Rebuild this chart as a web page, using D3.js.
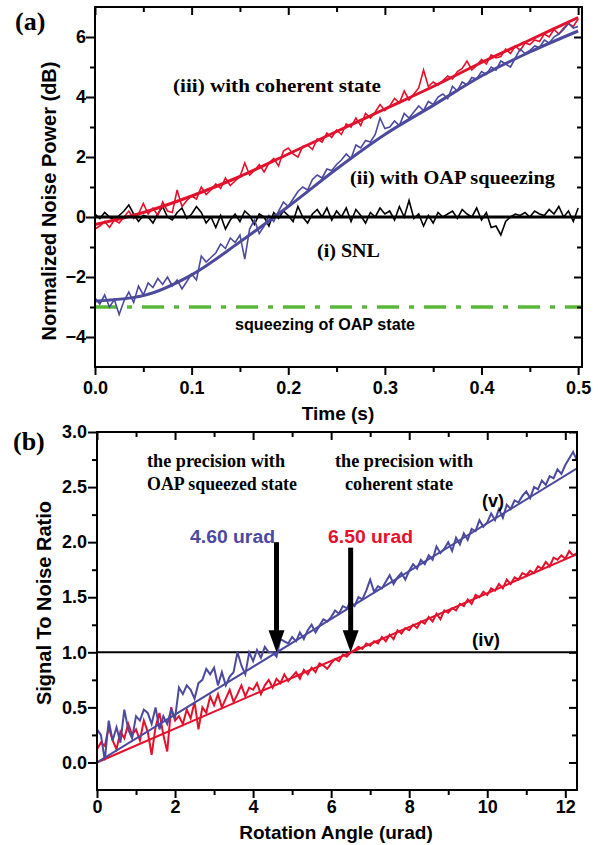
<!DOCTYPE html>
<html>
<head>
<meta charset="utf-8">
<script src="https://cdn.jsdelivr.net/npm/d3@7"></script>
<style>
  body { margin: 0; background: #fff; }
  .tick text { font-family: "Liberation Sans", Arial, sans-serif; font-weight: bold; font-size: 18px; fill: #000; }
  .tick line { stroke: #000; stroke-width: 2; }
</style>
</head>
<body>
<svg id="chart" width="601" height="845"></svg>
<script>
// ---- panel (a): noise power vs time ----
var timeStep = 0.005;
var snlTrace = [
    0.1,-0.05,0.15,0.0,-0.1,0.05,0.2,0.4,0.1,-0.15,
    0.05,0.0,-0.2,0.1,0.35,0.0,-0.1,0.15,0.3,-0.05,
    0.1,0.35,0.15,-0.2,0.0,-0.35,0.05,-0.4,-0.1,0.1,
    -0.15,0.2,0.05,-0.25,0.1,0.0,-0.3,0.15,-0.05,0.2,
    0.05,-0.15,0.35,0.0,-0.2,0.1,0.25,0.0,0.3,-0.1,
    0.2,0.0,0.3,-0.15,0.25,0.05,-0.2,0.15,0.0,0.3,
    0.1,0.2,-0.1,0.35,0.0,0.55,-0.05,0.1,-0.3,0.05,
    -0.2,0.15,0.0,0.1,0.2,-0.05,0.25,0.1,0.0,0.3,
    -0.1,0.15,-0.35,-0.3,-0.6,-0.15,0.0,0.1,0.05,0.15,
    0.0,0.2,0.1,0.05,0.25,0.1,0.35,0.0,0.2,-0.15,
    0.3
];
var coherentTrace = [
    -0.4,-0.3,-0.15,-0.35,-0.1,-0.2,0.0,0.2,-0.05,0.1,
    0.45,0.1,0.3,0.05,0.5,0.2,0.15,0.9,0.35,0.55,
    0.7,0.6,1.0,0.75,0.9,1.1,0.95,1.3,1.05,1.2,
    1.35,1.8,1.4,1.55,1.75,1.5,1.8,1.95,1.7,2.2,
    2.3,2.1,2.0,2.35,2.4,2.25,2.6,2.5,2.8,2.65,
    2.9,2.75,3.1,3.0,3.3,3.05,3.45,3.3,3.5,3.75,
    3.55,3.7,3.95,3.8,4.2,3.9,4.1,4.3,4.9,4.35,
    4.5,4.4,4.55,4.7,4.6,4.85,4.95,5.2,4.9,5.05,
    5.25,5.1,5.4,5.3,5.35,5.6,5.45,5.7,5.55,5.8,
    5.75,5.9,5.85,6.1,6.0,6.25,6.1,6.3,6.45,6.35,
    6.6
];
var oapTrace = [
    -2.7,-2.9,-2.6,-3.0,-2.75,-3.25,-2.8,-2.5,-2.85,-2.3,
    -2.6,-2.2,-2.35,-2.05,-2.25,-2.0,-2.3,-2.1,-2.4,-2.15,
    -1.9,-2.1,-1.3,-1.5,-1.35,-1.2,-0.9,-1.05,-0.7,-0.85,
    -0.6,-1.4,-0.4,-0.1,-0.55,-0.3,0.05,-0.15,0.2,0.5,
    0.35,0.6,0.85,1.0,0.9,1.25,1.4,1.3,1.6,1.55,
    1.75,1.9,2.1,1.95,2.4,2.3,2.55,2.5,2.75,3.3,
    2.95,3.0,3.2,3.05,3.45,3.3,3.5,3.7,3.55,3.85,
    3.75,4.0,4.1,3.95,4.35,4.2,4.5,4.4,4.65,4.6,
    4.85,4.75,5.0,4.9,5.2,5.1,5.0,5.3,5.6,5.45,
    5.55,5.7,5.65,5.9,5.8,6.0,6.1,6.25,6.45,6.3,
    6.35
];
var fitTimes = [0, 0.05, 0.1, 0.15, 0.2, 0.25, 0.3, 0.35, 0.4, 0.45, 0.5];
var coherentFit = [-0.25, 0.15, 0.7, 1.35, 2.1, 2.85, 3.6, 4.35, 5.15, 5.9, 6.65];
var oapFit = [-2.8, -2.62, -1.93, -0.83, 0.35, 1.6, 2.75, 3.72, 4.7, 5.5, 6.2];
var snlLevel = 0;
var oapSqueezeLevel = -3.0;

var timeTicks = [0, 0.1, 0.2, 0.3, 0.4, 0.5];
var timeMinor = [0.05, 0.15, 0.25, 0.35, 0.45];
var powerTicks = [-4, -2, 0, 2, 4, 6];
var powerMinor = [-3, -1, 1, 3, 5];

// ---- panel (b): SNR vs rotation angle ----
var angleStep = 0.1;
var oapSnr = [
    0.30,0.25,0.02,0.38,0.2,0.32,0.18,0.48,0.3,0.22,
    0.42,0.38,0.48,0.45,0.35,0.5,0.3,0.42,0.35,0.48,
    0.4,0.68,0.62,0.7,0.66,0.58,0.72,0.75,0.85,0.8,
    0.86,0.7,0.82,0.7,0.78,0.82,1.0,0.88,0.8,1.0,
    0.92,1.02,0.95,1.05,1.0,1.0,0.96,1.12,1.1,1.08,
    1.14,1.1,1.18,1.12,1.2,1.25,1.18,1.24,1.3,1.28,
    1.32,1.38,1.35,1.42,1.4,1.46,1.42,1.5,1.48,1.56,
    1.66,1.55,1.6,1.58,1.64,1.7,1.62,1.68,1.72,1.66,
    1.74,1.8,1.76,1.84,1.8,1.88,1.84,1.96,1.9,1.94,
    2.0,1.92,2.04,1.98,2.08,2.02,2.12,2.1,2.2,2.14,
    2.18,2.26,2.2,2.3,2.22,2.34,2.3,2.38,2.36,2.42,
    2.46,2.4,2.5,2.48,2.56,2.52,2.6,2.58,2.66,2.62,
    2.7,2.76,2.82,2.74
];
var coherentSnr = [
    0.12,0.18,0.15,0.32,0.2,0.12,0.28,0.22,0.35,0.25,
    0.3,0.2,0.38,0.28,0.07,0.32,0.45,0.25,0.1,0.5,
    0.38,0.42,0.35,0.48,0.4,0.55,0.3,0.5,0.45,0.6,
    0.52,0.62,0.5,0.58,0.66,0.55,0.62,0.7,0.6,0.68,
    0.66,0.72,0.62,0.7,0.75,0.68,0.76,0.72,0.8,0.74,
    0.78,0.82,0.76,0.84,0.8,0.86,0.82,0.9,0.88,0.85,
    0.9,0.94,0.92,0.98,0.96,1.0,1.02,1.05,1.03,1.08,
    1.06,1.1,1.08,1.14,1.1,1.16,1.12,1.2,1.17,1.22,
    1.2,1.25,1.22,1.28,1.26,1.32,1.28,1.35,1.3,1.38,
    1.36,1.4,1.38,1.44,1.42,1.48,1.44,1.52,1.5,1.55,
    1.52,1.58,1.56,1.62,1.58,1.66,1.62,1.68,1.66,1.72,
    1.7,1.74,1.72,1.78,1.76,1.82,1.78,1.86,1.84,1.88,
    1.85,1.92,1.88,1.9
];
var fitAngles = [0, 12.3];
var oapSnrFit = [0, 2.67];
var coherentSnrFit = [0, 1.89];
var snrThreshold = 1.0;
var precisionAngles = [4.60, 6.50];
var precisionLabels = ["4.60 urad", "6.50 urad"];
var arrowTops = [2.0, 1.95];

var angleTicks = [0, 2, 4, 6, 8, 10, 12];
var angleMinor = [1, 3, 5, 7, 9, 11];
var snrTicks = [0, 0.5, 1.0, 1.5, 2.0, 2.5, 3.0];
var snrMinor = [0.25, 0.75, 1.25, 1.75, 2.25, 2.75];

var RED = "#e3122c", BLUE = "#4b4a9f", GREEN = "#58b83a";
var SANS = "'Liberation Sans', Arial, sans-serif";
var SERIF = "'Liberation Serif', 'Times New Roman', serif";

var svg = d3.select("#chart");

/**
 * Draw the frame, mirrored ticks and tick labels of one panel.
 */
function draw_axes(g, x, y, w, h, opt) {
    var bottom = g.append("g").attr("transform", "translate(0," + h + ")");
    bottom.append("g").call(d3.axisBottom(x).tickValues(opt.xt).tickSize(8)
        .tickPadding(opt.xpad).tickFormat(opt.xfmt));
    bottom.append("g").call(d3.axisBottom(x).tickValues(opt.xm).tickSize(5).tickFormat(""));
    g.append("g").call(d3.axisTop(x).tickValues(opt.xt).tickSize(-8).tickFormat(""));
    g.append("g").call(d3.axisTop(x).tickValues(opt.xm).tickSize(-5).tickFormat(""));
    g.append("g").call(d3.axisLeft(y).tickValues(opt.yt).tickSize(9)
        .tickPadding(opt.ypad).tickFormat(opt.yfmt));
    g.append("g").call(d3.axisLeft(y).tickValues(opt.ym).tickSize(5).tickFormat(""));
    var right = g.append("g").attr("transform", "translate(" + w + ",0)");
    right.append("g").call(d3.axisRight(y).tickValues(opt.yt).tickSize(-8).tickFormat(""));
    right.append("g").call(d3.axisRight(y).tickValues(opt.ym).tickSize(-5).tickFormat(""));
    g.selectAll(".domain").remove();
    g.append("rect").attr("width", w).attr("height", h)
        .attr("fill", "none").attr("stroke", "#000").attr("stroke-width", 2);
}

function add_text(g, txt, x, y, font, size, len, color) {
    var t = g.append("text").attr("x", x).attr("y", y).text(txt)
        .attr("font-family", font).attr("font-weight", "bold")
        .attr("font-size", size).attr("fill", color || "#000");
    if (len) {
        t.attr("textLength", len).attr("lengthAdjust", "spacingAndGlyphs");
    }
    return t;
}

// ================= panel (a) =================
var a = {left: 95, top: 7, w: 487, h: 360};
var ga = svg.append("g").attr("transform", "translate(" + a.left + "," + a.top + ")");
var xa = d3.scaleLinear().domain([0, 0.504]).range([0, a.w]);
var ya = d3.scaleLinear().domain([-5, 7]).range([a.h, 0]);

ga.append("clipPath").attr("id", "clipA").append("rect").attr("width", a.w).attr("height", a.h);
var pa = ga.append("g").attr("clip-path", "url(#clipA)");

var traceLine = d3.line()
    .x(function(d, i) { return xa(i * timeStep); })
    .y(function(d) { return ya(d); });
var fitLineA = d3.line()
    .x(function(d, i) { return xa(fitTimes[i]); })
    .y(function(d) { return ya(d); })
    .curve(d3.curveMonotoneX);

pa.append("line").attr("x1", xa(0)).attr("x2", a.w)
    .attr("y1", ya(oapSqueezeLevel)).attr("y2", ya(oapSqueezeLevel))
    .attr("stroke", GREEN).attr("stroke-width", 3.5)
    .attr("stroke-dasharray", "22,10,5,10");

pa.append("path").datum(snlTrace).attr("d", traceLine)
    .attr("fill", "none").attr("stroke", "#000").attr("stroke-width", 1.6);
pa.append("path").datum(coherentTrace).attr("d", traceLine)
    .attr("fill", "none").attr("stroke", RED).attr("stroke-width", 1.6);
pa.append("path").datum(oapTrace).attr("d", traceLine)
    .attr("fill", "none").attr("stroke", BLUE).attr("stroke-width", 1.6);
pa.append("path").datum(coherentFit).attr("d", fitLineA)
    .attr("fill", "none").attr("stroke", RED).attr("stroke-width", 3);
pa.append("path").datum(oapFit).attr("d", fitLineA)
    .attr("fill", "none").attr("stroke", BLUE).attr("stroke-width", 3);
pa.append("line").attr("x1", 0).attr("x2", a.w)
    .attr("y1", ya(snlLevel)).attr("y2", ya(snlLevel))
    .attr("stroke", "#000").attr("stroke-width", 3);

draw_axes(ga, xa, ya, a.w, a.h, {
    xt: timeTicks, xm: timeMinor, yt: powerTicks, ym: powerMinor,
    xfmt: d3.format(".1f"), yfmt: d3.format("d"), xpad: 6, ypad: 0
});

add_text(svg, "(a)", 15, 30, SERIF, 26);
add_text(svg, "(iii) with coherent state", 173, 92, SERIF, 19, 208);
add_text(svg, "(ii) with OAP squeezing", 350, 184, SERIF, 19, 205);
add_text(svg, "(i) SNL", 317, 257, SERIF, 19, 63);
add_text(svg, "squeezing of OAP state", 235, 330, SANS, 16, 180);
add_text(svg, "Time (s)", 338, 420, SANS, 19).attr("text-anchor", "middle");
add_text(svg, "Normalized Noise Power (dB)", 0, 0, SANS, 20)
    .attr("text-anchor", "middle").attr("transform", "translate(56,201) rotate(-90)");

// ================= panel (b) =================
var b = {left: 97, top: 432, w: 480, h: 358};
var gb = svg.append("g").attr("transform", "translate(" + b.left + "," + b.top + ")");
var xb = d3.scaleLinear().domain([0, 12.3]).range([0, b.w]);
var yb = d3.scaleLinear().domain([-0.25, 3.0]).range([b.h, 0]);

gb.append("clipPath").attr("id", "clipB").append("rect").attr("width", b.w).attr("height", b.h);
var pb = gb.append("g").attr("clip-path", "url(#clipB)");

var snrLine = d3.line()
    .x(function(d, i) { return xb(i * angleStep); })
    .y(function(d) { return yb(d); });
var fitLineB = d3.line()
    .x(function(d, i) { return xb(fitAngles[i]); })
    .y(function(d) { return yb(d); });

pb.append("line").attr("x1", 0).attr("x2", b.w)
    .attr("y1", yb(snrThreshold)).attr("y2", yb(snrThreshold))
    .attr("stroke", "#000").attr("stroke-width", 2);
pb.append("path").datum(coherentSnr).attr("d", snrLine)
    .attr("fill", "none").attr("stroke", RED).attr("stroke-width", 2);
pb.append("path").datum(oapSnr).attr("d", snrLine)
    .attr("fill", "none").attr("stroke", BLUE).attr("stroke-width", 2);
pb.append("path").datum(coherentSnrFit).attr("d", fitLineB)
    .attr("fill", "none").attr("stroke", RED).attr("stroke-width", 2);
pb.append("path").datum(oapSnrFit).attr("d", fitLineB)
    .attr("fill", "none").attr("stroke", BLUE).attr("stroke-width", 2);

// arrows marking where each SNR reaches 1
precisionAngles.forEach(function(ang, i) {
    var px = xb(ang), tip = yb(snrThreshold);
    gb.append("line").attr("x1", px).attr("x2", px)
        .attr("y1", yb(arrowTops[i])).attr("y2", tip - 18)
        .attr("stroke", "#000").attr("stroke-width", 5);
    gb.append("path")
        .attr("d", "M" + (px - 8) + "," + (tip - 22) + "L" + (px + 8) + "," + (tip - 22) +
                   "L" + px + "," + tip + "Z")
        .attr("fill", "#000");
});

draw_axes(gb, xb, yb, b.w, b.h, {
    xt: angleTicks, xm: angleMinor, yt: snrTicks, ym: snrMinor,
    xfmt: d3.format("d"), yfmt: d3.format(".1f"), xpad: 2, ypad: 1
});

add_text(svg, "(b)", 13, 450, SERIF, 26);
add_text(svg, "the precision with", 147, 467, SERIF, 18, 138);
add_text(svg, "OAP squeezed state", 147, 490, SERIF, 18, 150);
add_text(svg, "the precision with", 335, 467, SERIF, 18, 138);
add_text(svg, "coherent state", 345, 490, SERIF, 18, 108);
add_text(svg, "(v)", 482, 507, SANS, 18, 22);
add_text(svg, "(iv)", 472, 646, SANS, 18, 28);
add_text(svg, precisionLabels[0], 190, 543, SANS, 18, 85, BLUE);
add_text(svg, precisionLabels[1], 328, 543, SANS, 18, 85, RED);
add_text(svg, "Rotation Angle (urad)", 336, 839, SANS, 19).attr("text-anchor", "middle");
add_text(svg, "Signal To Noise Ratio", 0, 0, SANS, 20)
    .attr("text-anchor", "middle").attr("transform", "translate(51,603) rotate(-90)");
</script>
</body>
</html>
